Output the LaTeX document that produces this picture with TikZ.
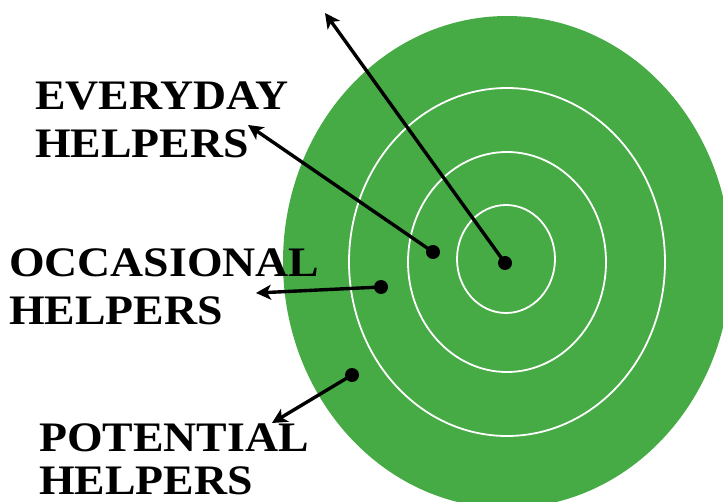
\documentclass[tikz,border=0pt]{standalone}
\usepackage{fontspec}
\usetikzlibrary{arrows.meta}
\newfontfamily\labfont[FakeStretch=1.09]{Liberation Serif}
\definecolor{target}{RGB}{70,170,69}
\tikzset{
  lab/.style={anchor=base west, inner sep=0pt, font=\labfont\bfseries\fontsize{42}{48}\selectfont},
  dot/.style={circle, fill=black, inner sep=0pt, minimum size=14pt},
  ring/.style={draw=white, line width=1.8pt},
  pointer/.style={draw=black, line width=3.4pt, -{Stealth[length=15pt,width=15pt,inset=4pt]}}
}
\begin{document}
\begin{tikzpicture}[x=1pt,y=-1pt]
\useasboundingbox (0,0) rectangle (723,502);
\clip (0,0) rectangle (723,502);
% target
\fill[target] (507,262) ellipse [x radius=224pt, y radius=246pt];
\draw[ring] (507,262) ellipse [x radius=158pt, y radius=174pt];
\draw[ring] (507,262) ellipse [x radius=99pt, y radius=110pt];
\draw[ring] (506,259) ellipse [x radius=49pt, y radius=54pt];
% labels
\node[lab] (ev1) at (35,110) {EVERYDAY};
\node[lab] (ev2) at (35,158) {HELPERS};
\node[lab] (oc1) at (9,277) {OCCASIONAL};
\node[lab] (oc2) at (9,325) {HELPERS};
\node[lab] (po1) at (39,452) {POTENTIAL};
\node[lab] (po2) at (39,494) {HELPERS};
% dots
\node[dot] (c0) at (505,263) {};
\node[dot] (d1) at (433,252) {};
\node[dot] (d2) at (381,287) {};
\node[dot] (d3) at (352,375) {};
% tips
\coordinate (t0) at (325,13);
\coordinate (t1) at (248,125);
\coordinate (t2) at (256,293);
\coordinate (t3) at (272,423);
\draw[pointer] (c0.center) -- (t0);
\draw[pointer] (d1.center) -- (t1);
\draw[pointer] (d2.center) -- (t2);
\draw[pointer] (d3.center) -- (t3);
\end{tikzpicture}
\end{document}
